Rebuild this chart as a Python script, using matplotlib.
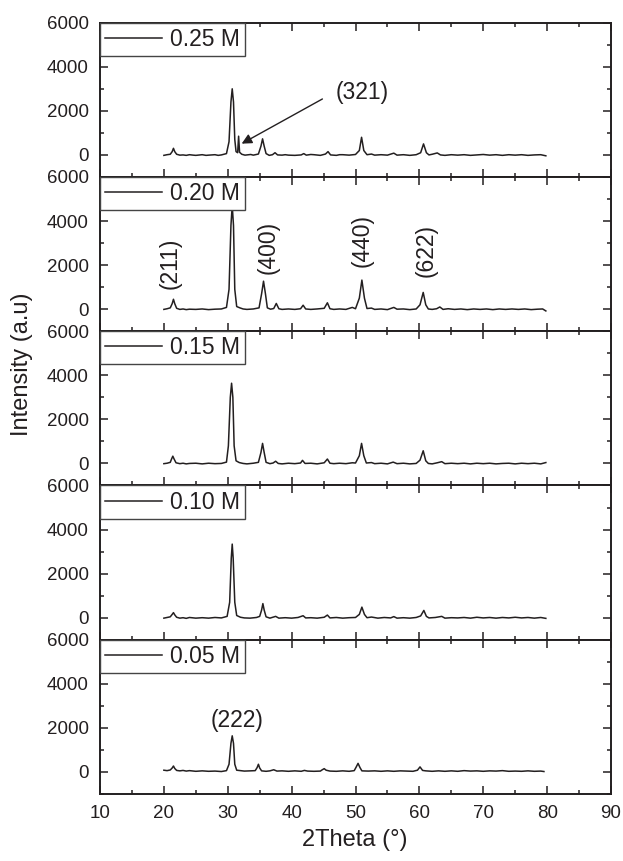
import matplotlib
matplotlib.use('Agg')
import matplotlib.pyplot as plt
from matplotlib.ticker import MultipleLocator

plt.rcParams['font.family'] = ['Liberation Sans', 'DejaVu Sans']

ink = '#231f20'

labels = ['0.25 M', '0.20 M', '0.15 M', '0.10 M', '0.05 M']

# (2theta, intensity) points, one list per sample
pts_025 = [(20.0, -20), (20.5, 10), (21.0, 30), (21.3, 150), (21.5, 300), (21.7, 150), (22.0, 30),
           (22.5, -10), (23.0, 0), (23.5, -20), (24.0, 10), (24.6, -10), (25.0, -20), (26.0, 10),
           (26.6, -20), (27.0, -10), (28.0, 10), (28.5, -20), (29.0, 0), (29.8, 60), (30.2, 600),
           (30.5, 2400), (30.7, 3000), (30.9, 2400), (31.1, 700), (31.3, 150), (31.55, 100),
           (31.7, 850), (31.85, 120), (32.2, 30), (32.7, -10), (33.0, 0), (33.6, 20), (34.0, -10),
           (34.8, 40), (35.2, 400), (35.45, 730), (35.7, 400), (36.0, 60), (36.5, -20), (37.0, 10),
           (37.4, 100), (37.8, 0), (38.5, -10), (39.0, 10), (39.5, -10), (40.5, -20), (41.5, 0),
           (41.9, 60), (42.3, -10), (43.0, 20), (43.5, 10), (44.5, -20), (45.3, 40), (45.7, 150),
           (46.1, 0), (47.0, -20), (47.5, 10), (48.0, 10), (49.0, -10), (50.0, 20), (50.6, 200),
           (50.95, 800), (51.3, 200), (51.8, 10), (52.5, 40), (53.0, -10), (54.0, 10), (55.0, -10),
           (56.0, 80), (56.5, -10), (57.5, 10), (58.5, -20), (59.5, 10), (60.2, 100), (60.65, 500),
           (61.1, 100), (61.5, 0), (62.0, 30), (62.8, 90), (63.3, 0), (64.0, -20), (65.0, 10),
           (66.0, -10), (67.0, 10), (68.0, -20), (69.0, 0), (70.0, 20), (71.0, -10), (72.0, 10),
           (73.0, -20), (74.0, 10), (75.0, -10), (76.0, 10), (77.0, -20), (78.0, 0), (79.0, 10),
           (79.8, -40)]

pts_020 = [(20.0, -10), (20.5, 20), (21.0, 60), (21.3, 250), (21.5, 450), (21.7, 250), (22.0, 40),
           (22.5, -10), (23.0, 10), (23.5, -20), (24.0, 0), (25.0, -10), (26.0, 10), (27.0, -20),
           (28.0, 0), (29.0, 10), (29.8, 80), (30.2, 900), (30.5, 3800), (30.7, 4700), (30.9, 3800),
           (31.1, 900), (31.4, 120), (31.9, 60), (32.4, 10), (33.0, -10), (34.0, 10), (34.9, 60),
           (35.3, 700), (35.6, 1270), (35.9, 700), (36.2, 60), (36.7, 0), (37.2, 30), (37.6, 260),
           (38.0, 20), (38.5, -10), (39.5, 10), (40.5, -10), (41.4, 20), (41.8, 180), (42.2, 10),
           (43.0, -10), (44.0, 10), (45.1, 40), (45.6, 290), (46.0, 20), (46.6, -10), (47.5, 10),
           (48.5, -10), (49.5, 80), (50.0, 20), (50.6, 500), (51.0, 1320), (51.4, 500), (51.8, 30),
           (52.5, 50), (53.0, -10), (54.0, 10), (55.0, -20), (56.0, 80), (56.5, 0), (57.5, 10),
           (58.5, -20), (59.5, 10), (60.1, 200), (60.6, 760), (61.0, 200), (61.4, 10), (62.0, -10),
           (62.7, 20), (63.2, 100), (63.7, -10), (64.5, 20), (65.5, -10), (66.5, 10), (67.5, -20),
           (68.5, 10), (69.5, -10), (70.5, 10), (71.5, -20), (72.5, 10), (73.5, -10), (74.5, 10),
           (75.5, -10), (76.5, 10), (77.5, -20), (78.5, 0), (79.3, 10), (79.8, -80)]

pts_015 = [(20.0, -10), (20.5, 10), (21.0, 50), (21.2, 200), (21.4, 330), (21.6, 200), (21.9, 30),
           (22.5, -10), (23.0, 10), (23.5, -20), (24.0, 0), (25.0, 10), (26.0, -20), (27.0, 10),
           (28.0, -10), (29.0, 0), (29.8, 60), (30.1, 800), (30.4, 3000), (30.6, 3640), (30.8, 3000),
           (31.0, 800), (31.3, 120), (31.8, 40), (32.4, 0), (33.0, -20), (34.0, 10), (34.8, 50),
           (35.2, 500), (35.45, 910), (35.7, 500), (36.0, 50), (36.6, -10), (37.1, 20), (37.5, 100),
           (37.9, 0), (38.5, -20), (39.5, 10), (40.5, -10), (41.4, 20), (41.7, 140), (42.1, 0),
           (43.0, 10), (44.0, -20), (45.1, 30), (45.6, 200), (46.0, 10), (46.6, -10), (47.5, 10),
           (48.5, -10), (49.5, 30), (50.0, 20), (50.6, 350), (50.95, 910), (51.3, 350), (51.7, 20),
           (52.5, 40), (53.0, -10), (54.0, 10), (55.0, -20), (55.9, 60), (56.5, -10), (57.5, 10),
           (58.5, -20), (59.5, 0), (60.1, 150), (60.6, 575), (61.0, 120), (61.4, 0), (62.0, -20),
           (62.8, 30), (63.5, 80), (64.0, -10), (65.0, 10), (66.0, -10), (67.0, 10), (68.0, -20),
           (69.0, 10), (70.0, -10), (71.0, 10), (72.0, -20), (73.0, 0), (74.0, 10), (75.0, -20),
           (76.0, 10), (77.0, -10), (78.0, 10), (79.0, -20), (79.8, 40)]

pts_010 = [(20.0, -20), (20.5, 10), (21.0, 40), (21.3, 150), (21.5, 230), (21.7, 130), (22.0, 20),
           (22.5, -20), (23.0, 0), (23.5, -30), (24.0, 10), (25.0, -20), (26.0, 0), (27.0, -20),
           (28.0, 10), (29.0, -10), (29.9, 60), (30.3, 700), (30.55, 2700), (30.7, 3340), (30.85, 2700),
           (31.1, 700), (31.4, 100), (32.0, 20), (32.6, -10), (33.5, -20), (34.5, 10), (35.0, 60),
           (35.3, 350), (35.5, 640), (35.7, 350), (36.0, 40), (36.6, -20), (37.5, 60), (38.0, -20),
           (39.0, 0), (40.0, -20), (41.0, 10), (41.8, 90), (42.2, -10), (43.0, 0), (44.0, -20),
           (45.1, 20), (45.6, 120), (46.0, -10), (47.0, 10), (48.0, -20), (49.0, 0), (50.0, 10),
           (50.6, 150), (51.0, 480), (51.4, 150), (51.8, 0), (52.5, 30), (53.5, -20), (54.5, 10),
           (55.5, -10), (56.0, 50), (56.5, -20), (57.5, 0), (58.5, -20), (59.5, 10), (60.2, 80),
           (60.7, 330), (61.1, 60), (61.5, -10), (62.5, 10), (63.5, 60), (64.0, -20), (65.0, 0),
           (66.0, -10), (67.0, 10), (68.0, -20), (69.0, 20), (70.0, -10), (71.0, 10), (72.0, -20),
           (73.0, 10), (74.0, -10), (75.0, 20), (76.0, -10), (77.0, 10), (78.0, -20), (79.0, 10),
           (79.8, -30)]

pts_005 = [(20.0, 80), (20.5, 60), (21.0, 90), (21.3, 180), (21.5, 270), (21.7, 160), (22.0, 70),
           (22.5, 50), (23.0, 70), (23.5, 40), (24.0, 60), (25.0, 30), (26.0, 50), (27.0, 30),
           (28.0, 40), (29.0, 20), (29.8, 60), (30.2, 350), (30.5, 1300), (30.7, 1640), (30.9, 1300),
           (31.1, 350), (31.4, 80), (32.0, 60), (32.6, 40), (33.5, 50), (34.3, 60), (34.6, 200),
           (34.8, 350), (35.0, 180), (35.3, 50), (36.0, 30), (36.6, 50), (37.2, 100), (37.7, 40),
           (38.5, 50), (39.5, 30), (40.5, 50), (41.5, 30), (42.0, 70), (42.5, 40), (43.5, 30),
           (44.5, 40), (44.8, 100), (45.1, 150), (45.4, 80), (46.0, 40), (47.0, 30), (48.0, 50),
           (49.0, 30), (49.8, 60), (50.1, 220), (50.4, 390), (50.7, 200), (51.0, 50), (52.0, 40),
           (53.0, 50), (54.0, 30), (55.0, 50), (56.0, 30), (57.0, 50), (58.0, 40), (59.0, 30),
           (59.7, 80), (60.1, 230), (60.5, 70), (61.0, 50), (62.0, 30), (63.0, 50), (64.0, 30),
           (65.0, 50), (66.0, 30), (67.0, 60), (68.0, 40), (69.0, 50), (70.0, 30), (71.0, 50),
           (72.0, 40), (73.0, 60), (74.0, 30), (75.0, 40), (76.0, 30), (77.0, 50), (78.0, 30),
           (79.0, 40), (79.5, 20)]

series = [pts_025, pts_020, pts_015, pts_010, pts_005]

# peak labels: (panel, text, 2theta, intensity, rotation)
peak_labels = [(1, '(211)', 21.0, 2100, 90), (1, '(400)', 36.3, 2800, 90),
               (1, '(440)', 51.1, 3100, 90), (1, '(622)', 61.1, 2650, 90),
               (4, '(222)', 31.4, 2350, 0)]

fig = plt.figure(figsize=(6.23, 8.61), dpi=100)
left, width = 100 / 623, 511 / 623
top = 1 - 22.7 / 861
ph = (794 - 22.7) / 861 / 5

axes = []
for i, (pts, lab) in enumerate(zip(series, labels)):
    ax = fig.add_axes([left, top - (i + 1) * ph, width, ph])
    x = [p[0] for p in pts]
    y = [p[1] for p in pts]
    ax.plot(x, y, color=ink, lw=1.1, label=lab)
    ax.set_xlim(10, 90)
    ax.set_ylim(-1000, 6000)
    ax.xaxis.set_major_locator(MultipleLocator(10))
    ax.xaxis.set_minor_locator(MultipleLocator(5))
    ax.yaxis.set_major_locator(MultipleLocator(2000))
    ax.yaxis.set_minor_locator(MultipleLocator(1000))
    ax.tick_params(which='both', direction='in', top=True, right=True, colors=ink,
                   labelsize=13.5, width=1.1, pad=8)
    ax.tick_params(which='major', length=6)
    ax.tick_params(which='minor', length=3)
    for s in ax.spines.values():
        s.set_linewidth(1.4)
        s.set_color(ink)
    if i < 4:
        ax.tick_params(labelbottom=False)
    leg = ax.legend(loc='upper left', borderaxespad=0, fancybox=False, fontsize=16.5,
                    handlelength=2.5, handletextpad=0.35, borderpad=0.22,
                    framealpha=1, edgecolor='#444444')
    leg.get_frame().set_linewidth(1.0)
    for t in leg.get_texts():
        t.set_color(ink)
    axes.append(ax)

for panel, txt, xx, yy, rot in peak_labels:
    axes[panel].text(xx, yy, txt, rotation=rot, ha='center', va='center',
                     fontsize=16.5, color=ink)

# (321) arrow on top panel
axes[0].annotate('', xy=(31.8, 450), xytext=(45.2, 2600),
                 arrowprops=dict(arrowstyle='-|>', color=ink, lw=1.0, mutation_scale=15))
axes[0].text(46.9, 2850, '(321)', ha='left', va='center', fontsize=16.5, color=ink)

fig.text(22 / 623, 1 - 364 / 861, 'Intensity (a.u)', rotation=90, ha='center', va='center',
         fontsize=17, color=ink)
fig.text(355 / 623, 1 - 840 / 861, '2Theta (°)', ha='center', va='center',
         fontsize=17, color=ink)

fig.savefig('out.png', dpi=100)
